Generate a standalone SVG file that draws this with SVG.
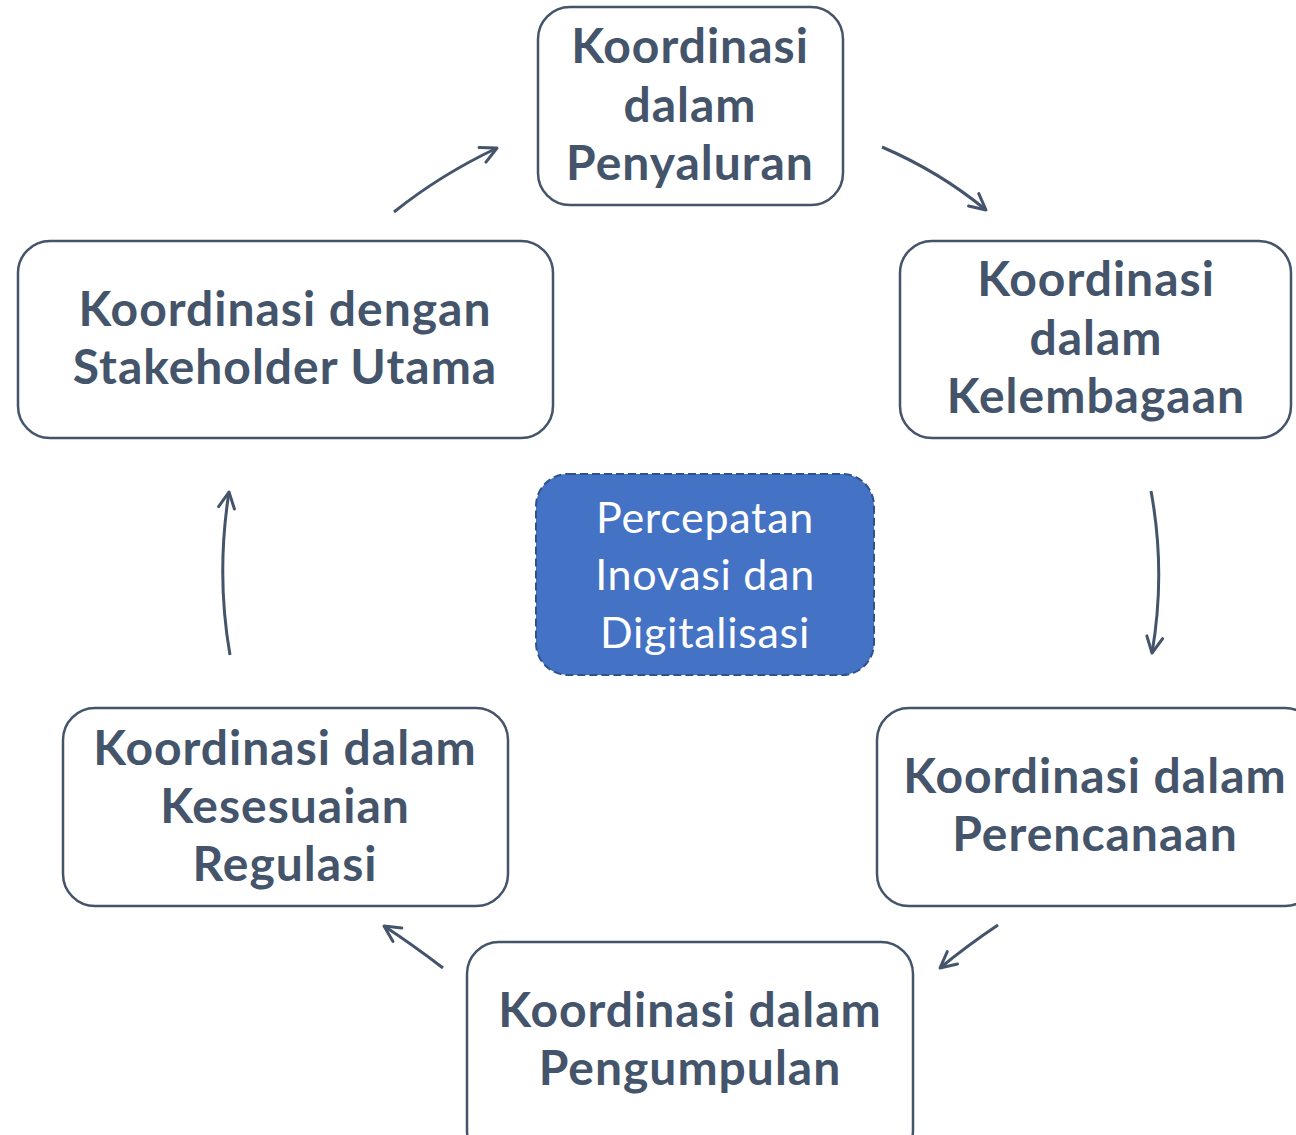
<svg xmlns="http://www.w3.org/2000/svg" width="1296" height="1135" viewBox="0 0 1296 1135">
<defs>
<style>
.box{fill:#fff;stroke:#44546A;stroke-width:2.5}
.lbl{font-family:Lato,"Liberation Sans",sans-serif;font-weight:bold;font-size:48px;letter-spacing:1px;fill:#44546A;text-anchor:middle}
.ctr{fill:#4472C4;stroke:#2F528F;stroke-width:2;stroke-dasharray:8 4}
.clbl{font-family:Lato,"Liberation Sans",sans-serif;font-size:43px;letter-spacing:0.7px;fill:#fff;text-anchor:middle}
.conn{fill:none;stroke:#44546A;stroke-width:3;marker-end:url(#ah)}
</style>
<marker id="ah" viewBox="0 0 20 20" refX="18" refY="10" markerWidth="20" markerHeight="20" markerUnits="userSpaceOnUse" orient="auto">
<path d="M2,2 L18,10 L2,18" fill="none" stroke="#44546A" stroke-width="3" stroke-linecap="round" stroke-linejoin="round"/>
</marker>
</defs>
<rect width="1296" height="1135" fill="#fff"/>
<g id="connectors">
<path class="conn" d="M394,212 Q440,175 497,148"/>
<path class="conn" d="M882,147 Q940,172 986,210"/>
<path class="conn" d="M1151,491 Q1166,572 1152,653"/>
<path class="conn" d="M998,925 Q968,945 940,968"/>
<path class="conn" d="M443,968 Q413,945 384,926"/>
<path class="conn" d="M230,655 Q216,575 229,492"/>
</g>
<g id="node-penyaluran">
<rect class="box" x="538" y="7" width="305" height="198" rx="32"/>
<text class="lbl" x="690" y="63">Koordinasi</text>
<text class="lbl" x="690" y="122">dalam</text>
<text class="lbl" x="690" y="180">Penyaluran</text>
</g>
<g id="node-kelembagaan">
<rect class="box" x="900" y="241" width="391" height="197" rx="32"/>
<text class="lbl" x="1096" y="296">Koordinasi</text>
<text class="lbl" x="1096" y="355">dalam</text>
<text class="lbl" x="1096" y="413">Kelembagaan</text>
</g>
<g id="node-stakeholder">
<rect class="box" x="18" y="241" width="535" height="197" rx="32"/>
<text class="lbl" x="285" y="326">Koordinasi dengan</text>
<text class="lbl" x="285" y="384">Stakeholder Utama</text>
</g>
<g id="node-center">
<rect class="ctr" x="536" y="474" width="338" height="201" rx="32"/>
<text class="clbl" x="705" y="533">Percepatan</text>
<text class="clbl" x="705" y="590">Inovasi dan</text>
<text class="clbl" x="705" y="648">Digitalisasi</text>
</g>
<g id="node-regulasi">
<rect class="box" x="63" y="708" width="445" height="198" rx="32"/>
<text class="lbl" x="285" y="765">Koordinasi dalam</text>
<text class="lbl" x="285" y="823">Kesesuaian</text>
<text class="lbl" x="285" y="881">Regulasi</text>
</g>
<g id="node-perencanaan">
<rect class="box" x="877" y="708" width="440" height="198" rx="32"/>
<text class="lbl" x="1095" y="793">Koordinasi dalam</text>
<text class="lbl" x="1095" y="851">Perencanaan</text>
</g>
<g id="node-pengumpulan">
<rect class="box" x="467" y="942" width="446" height="220" rx="32"/>
<text class="lbl" x="690" y="1027">Koordinasi dalam</text>
<text class="lbl" x="690" y="1085">Pengumpulan</text>
</g>
</svg>
